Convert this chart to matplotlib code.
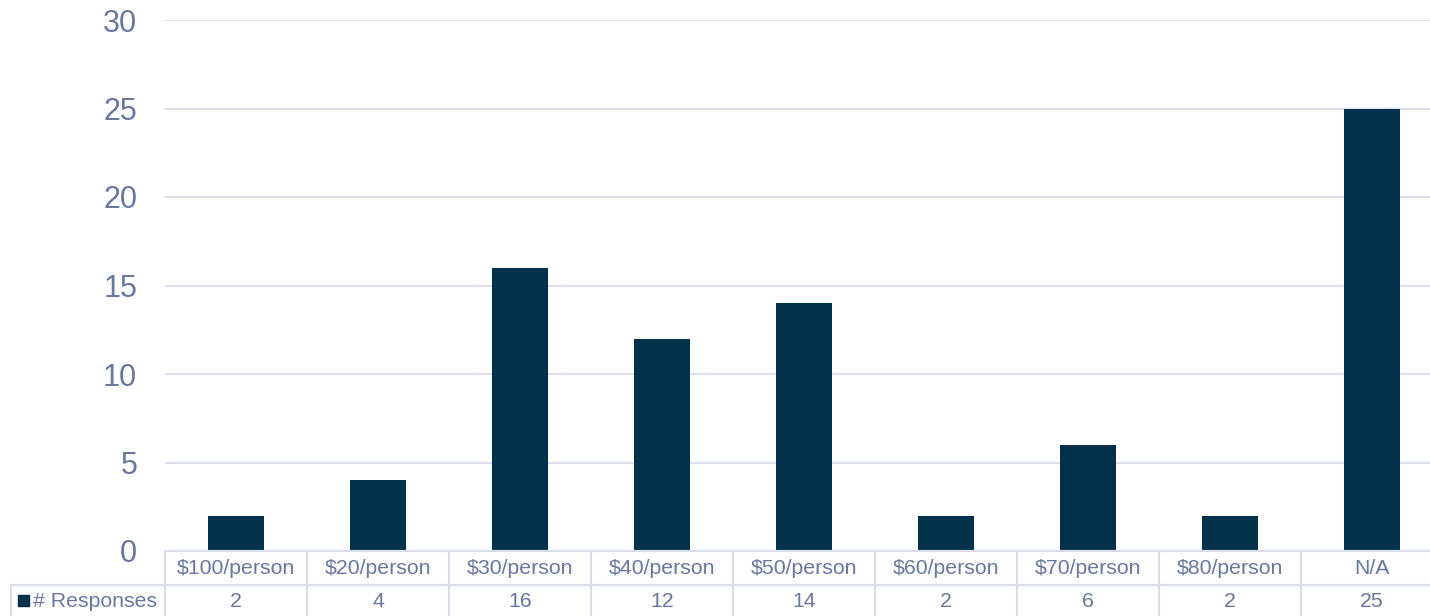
import matplotlib
matplotlib.use("Agg")
import matplotlib.pyplot as plt
from matplotlib.lines import Line2D
from matplotlib.patches import Rectangle

categories = ["$100/person", "$20/person", "$30/person", "$40/person", "$50/person",
              "$60/person", "$70/person", "$80/person", "N/A"]
responses = [2, 4, 16, 12, 14, 2, 6, 2, 25]
series_name = "# Responses"
yticks = [0, 5, 10, 15, 20, 25, 30]

BAR = "#03304a"
TXT = "#6877a0"
GRID = "#d9dce9"

plt.rcParams["font.family"] = ["Liberation Sans", "DejaVu Sans"]
W, H = 1430, 616
fig = plt.figure(figsize=(W / 100, H / 100), dpi=100)

colw = 142
L, T, B = 165, 20, 551
R = L + colw * len(categories)
ax = fig.add_axes([L / W, 1 - B / H, (R - L) / W, (B - T) / H])
x = list(range(len(categories)))
ax.bar(x, responses, width=0.4, color=BAR, zorder=3)
ax.set_xlim(-0.5, len(categories) - 0.5)
ax.set_ylim(0, 30)
ax.set_yticks(yticks)
ax.set_yticklabels([str(v) for v in yticks])
ax.tick_params(axis="y", length=0, pad=20, labelsize=22, labelcolor=TXT)
ax.set_xticks([])
for s in ax.spines.values():
    s.set_visible(False)
ax.grid(axis="y", color=GRID, linewidth=1.3, zorder=0)

# data table below the plot
def fx(px):
    return px / W

def fy(py):
    return 1 - py / H

row1_top, row1_bot, row2_bot = 551, 585, 616
header_left = 11
lw = 1.6
fs = 15.3
fig.add_artist(Line2D([fx(L), fx(R)], [fy(row1_top), fy(row1_top)], color=GRID, lw=lw))
fig.add_artist(Line2D([fx(header_left), fx(R)], [fy(row1_bot), fy(row1_bot)], color=GRID, lw=lw))
fig.add_artist(Line2D([fx(header_left), fx(header_left)], [fy(row1_bot), fy(row2_bot)], color=GRID, lw=lw))
for i in range(len(categories) + 1):
    xp = L + i * colw
    fig.add_artist(Line2D([fx(xp), fx(xp)], [fy(row1_top), fy(row2_bot)], color=GRID, lw=lw))

for i, (c, v) in enumerate(zip(categories, responses)):
    xc = L + (i + 0.5) * colw
    fig.text(fx(xc), fy((row1_top + row1_bot) / 2 + 1), c, ha="center", va="center",
             fontsize=fs, color=TXT)
    fig.text(fx(xc), fy((row1_bot + row2_bot) / 2 + 1), str(v), ha="center", va="center",
             fontsize=fs, color=TXT)

fig.add_artist(Rectangle((fx(18), fy(606)), 11 / W, 11 / H, color=BAR, transform=fig.transFigure))
fig.text(fx(33), fy((row1_bot + row2_bot) / 2 + 1), series_name, ha="left", va="center",
         fontsize=fs, color=TXT)

fig.savefig("out.png", dpi=100)
